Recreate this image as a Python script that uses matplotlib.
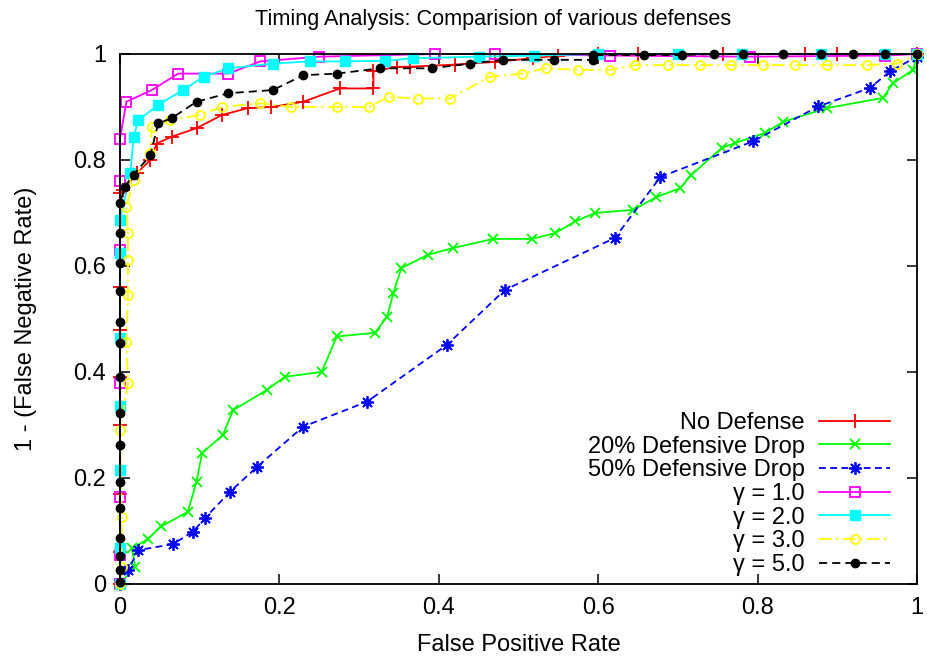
import matplotlib
matplotlib.use("Agg")
import matplotlib.pyplot as plt

plt.rcParams['font.family'] = ['Liberation Sans', 'DejaVu Sans']

# ---------------- data ----------------
nodef_x = [0, 0, 0, 0, 0, 0, 0, 0, 0.004, 0.021, 0.038, 0.046, 0.065, 0.096, 0.128, 0.161, 0.19, 0.23,
           0.276, 0.318, 0.318, 0.347, 0.364, 0.42, 0.47, 0.518, 0.55, 0.6, 0.65, 0.757, 0.86, 0.9, 1.0]
nodef_y = [0, 0.06, 0.17, 0.3, 0.39, 0.48, 0.56, 0.738, 0.743, 0.775, 0.80, 0.831, 0.844, 0.86, 0.885, 0.898, 0.90, 0.91,
           0.935, 0.935, 0.967, 0.976, 0.976, 0.98, 0.985, 0.992, 0.997, 1.0, 1.0, 1.0, 1.0, 1.0, 1.0]

drop20_x = [0, 0.019, 0.015, 0.035, 0.052, 0.085, 0.096, 0.103, 0.129, 0.142, 0.184, 0.207, 0.253, 0.272, 0.32,
            0.335, 0.343, 0.353, 0.386, 0.418, 0.468, 0.517, 0.546, 0.571, 0.596, 0.644, 0.673, 0.703, 0.717,
            0.755, 0.772, 0.809, 0.832, 0.887, 0.957, 0.97, 0.995, 1.0]
drop20_y = [0, 0.033, 0.067, 0.085, 0.109, 0.136, 0.193, 0.247, 0.281, 0.328, 0.366, 0.391, 0.40, 0.467, 0.474,
            0.504, 0.549, 0.596, 0.621, 0.634, 0.651, 0.651, 0.662, 0.684, 0.70, 0.706, 0.73, 0.747, 0.772,
            0.823, 0.832, 0.851, 0.872, 0.898, 0.917, 0.945, 0.97, 0.996]

drop50_x = [0, 0.01, 0.023, 0.066, 0.092, 0.107, 0.138, 0.172, 0.23, 0.31, 0.41, 0.483, 0.621, 0.678,
            0.794, 0.876, 0.941, 0.966, 1.0]
drop50_y = [0, 0.026, 0.064, 0.075, 0.099, 0.125, 0.174, 0.221, 0.297, 0.344, 0.451, 0.555, 0.653, 0.768,
            0.835, 0.901, 0.936, 0.967, 0.995]

g1_x = [0, 0, 0, 0, 0, 0, 0, 0.008, 0.04, 0.073, 0.136, 0.176, 0.25, 0.395, 0.47, 0.615, 0.79, 0.96, 1.0]
g1_y = [0, 0.055, 0.165, 0.38, 0.63, 0.76, 0.84, 0.91, 0.932, 0.963, 0.963, 0.986, 0.995, 1.0, 1.0, 0.997, 0.995,
        0.997, 1.0]

g2_x = [0, 0, 0, 0, 0, 0, 0, 0.013, 0.017, 0.023, 0.048, 0.079, 0.105, 0.136, 0.192, 0.238, 0.282, 0.332,
        0.368, 0.45, 0.52, 0.6, 0.7, 0.78, 0.88, 0.96, 1.0]
g2_y = [0, 0.068, 0.215, 0.335, 0.464, 0.624, 0.687, 0.775, 0.844, 0.875, 0.904, 0.932, 0.957, 0.973, 0.982,
        0.986, 0.986, 0.987, 0.992, 0.995, 0.997, 1.0, 1.0, 1.0, 1.0, 1.0, 1.0]

g3_x = [0, 0.002, 0.002, 0.0, 0.01, 0.008, 0.01, 0.01, 0.01, 0.008, 0.017, 0.038, 0.04, 0.063, 0.1, 0.128,
        0.176, 0.215, 0.272, 0.312, 0.337, 0.374, 0.414, 0.464, 0.504, 0.535, 0.575, 0.615, 0.646, 0.688,
        0.728, 0.767, 0.807, 0.847, 0.887, 0.937, 0.975, 1.0]
g3_y = [0, 0.033, 0.127, 0.29, 0.379, 0.457, 0.545, 0.611, 0.662, 0.712, 0.762, 0.813, 0.863, 0.875, 0.885, 0.90,
        0.907, 0.90, 0.90, 0.90, 0.919, 0.916, 0.916, 0.957, 0.963, 0.973, 0.97, 0.97, 0.979, 0.979,
        0.979, 0.979, 0.979, 0.979, 0.979, 0.979, 0.982, 1.0]

g5_x = [0, 0, 0, 0, 0, 0, 0, 0, 0, 0, 0, 0, 0, 0, 0, 0.006, 0.017, 0.038, 0.048, 0.065, 0.096, 0.136, 0.192,
        0.23, 0.272, 0.326, 0.391, 0.439, 0.481, 0.544, 0.594, 0.594, 0.657, 0.705, 0.745, 0.782, 0.832,
        0.88, 0.92, 0.96, 1.0]
g5_y = [0.004, 0.026, 0.052, 0.086, 0.143, 0.193, 0.262, 0.322, 0.391, 0.454, 0.495, 0.552, 0.605, 0.662, 0.718,
        0.75, 0.772, 0.809, 0.869, 0.879, 0.91, 0.926, 0.932, 0.96, 0.963, 0.973, 0.973, 0.982, 0.989, 0.989,
        0.989, 0.998, 0.998, 0.998, 1.0, 1.0, 1.0, 1.0, 1.0, 1.0, 1.0]

labels = ["No Defense", "20% Defensive Drop", "50% Defensive Drop",
          "γ = 1.0", "γ = 2.0", "γ = 3.0", "γ = 5.0"]
ticks = [0, 0.2, 0.4, 0.6, 0.8, 1.0]
tick_labels = ["0", "0.2", "0.4", "0.6", "0.8", "1"]

# ---------------- figure ----------------
W, H = 927, 660
fig = plt.figure(figsize=(W / 100, H / 100), dpi=100)
ax = fig.add_axes([120 / W, 1 - 584 / H, 797 / W, 530 / H])

lw = 1.3
asterisk = (8, 2, 0)
series = [
    (nodef_x, nodef_y, dict(color='#ff0000', ls='-', marker='+', ms=10, mew=1.3)),
    (drop20_x, drop20_y, dict(color='#00ff00', ls='-', marker='x', ms=7, mew=1.3)),
    (drop50_x, drop50_y, dict(color='#0000ff', ls=(0, (3.8, 2.4)), marker=asterisk, ms=9, mew=1.3)),
    (g1_x, g1_y, dict(color='#ff00ff', ls='-', marker='s', ms=6.5, mfc='none', mew=1.3)),
    (g2_x, g2_y, dict(color='#00ffff', ls='-', marker='s', ms=6.5, mew=1.0)),
    (g3_x, g3_y, dict(color='#ffff00', ls=(0, (7, 2.5, 1.2, 2.5)), marker='o', ms=6.5, mfc='none', mew=1.3)),
    (g5_x, g5_y, dict(color='#000000', ls=(0, (4.5, 2.8)), marker='o', ms=6, mew=1.0)),
]
for (xs, ys, st), lab in zip(series, labels):
    ax.plot(xs, ys, lw=lw, label=lab, clip_on=False, **st)

ax.set_xlim(0, 1)
ax.set_ylim(0, 1)
ax.set_xticks(ticks)
ax.set_xticklabels(tick_labels)
ax.set_yticks(ticks)
ax.set_yticklabels(tick_labels)
ax.tick_params(direction='in', length=7, width=1.1, labelsize=17, top=True, right=True)
ax.tick_params(axis='x', pad=9)
ax.tick_params(axis='y', pad=10)
for sp in ax.spines.values():
    sp.set_linewidth(1.3)

ax.set_xlabel("False Positive Rate", fontsize=17, labelpad=11)
ax.set_ylabel("1 - (False Negative Rate)", fontsize=17, labelpad=26)
fig.text(493 / W, 1 - 19 / H, "Timing Analysis: Comparision of various defenses",
         ha='center', va='center', fontsize=15.6)

leg = ax.legend(loc='lower right', bbox_to_anchor=(890 / W, 1 - 576 / H), bbox_transform=fig.transFigure,
                frameon=False, fontsize=17, markerfirst=False, handlelength=3.0, handletextpad=0.6,
                labelspacing=0.07, borderpad=0, borderaxespad=0)

fig.savefig("out.png", dpi=100)
